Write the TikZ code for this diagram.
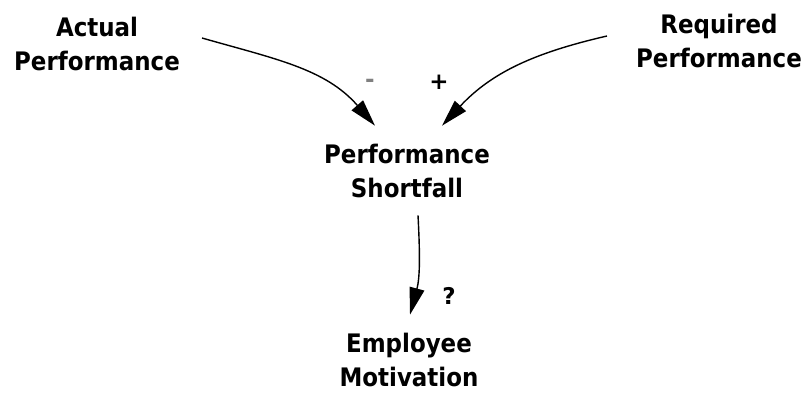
\documentclass[tikz,border=0pt]{standalone}
\usepackage{fontspec}
\setmainfont{DejaVu Sans}
\newfontfamily\lblfont{DejaVu Sans Condensed Bold}
\newfontfamily\sgnfont{DejaVu Sans Bold}
\usetikzlibrary{arrows.meta}
\begin{document}
\begin{tikzpicture}[x=1pt,y=1pt,
  lbl/.style={align=center,inner sep=0pt,font=\lblfont\fontsize{25.5}{34.5}\selectfont},
  sgn/.style={inner sep=0pt,font=\sgnfont\fontsize{23}{26}\selectfont},
  arr/.style={line width=1.4pt,-{Triangle[length=27pt,width=15pt]}}]
\useasboundingbox (0,0) rectangle (807,392);
\node[lbl] (A) at (97,348) {Actual\\Performance};
\node[lbl] (R) at (719,351) {Required\\Performance};
\node[lbl] (S) at (407,221) {Performance\\Shortfall};
\node[lbl] (E) at (409,32) {Employee\\Motivation};
\node[sgn,text=black!50] (m) at (370,309) {-};
\node[sgn] (p) at (439,310) {+};
\node[sgn] (q) at (449,96) {?};
\draw[arr] ([xshift=22pt,yshift=6pt]A.east) to[out=-16,in=131] ([xshift=-32pt,yshift=18pt]S.north);
\draw[arr] ([xshift=-29pt,yshift=5pt]R.west) to[out=193,in=47] ([xshift=35pt,yshift=18pt]S.north);
\draw[arr] ([xshift=11pt,yshift=-17pt]S.south) to[out=-87,in=75] ([xshift=1pt,yshift=18pt]E.north);
\end{tikzpicture}
\end{document}
